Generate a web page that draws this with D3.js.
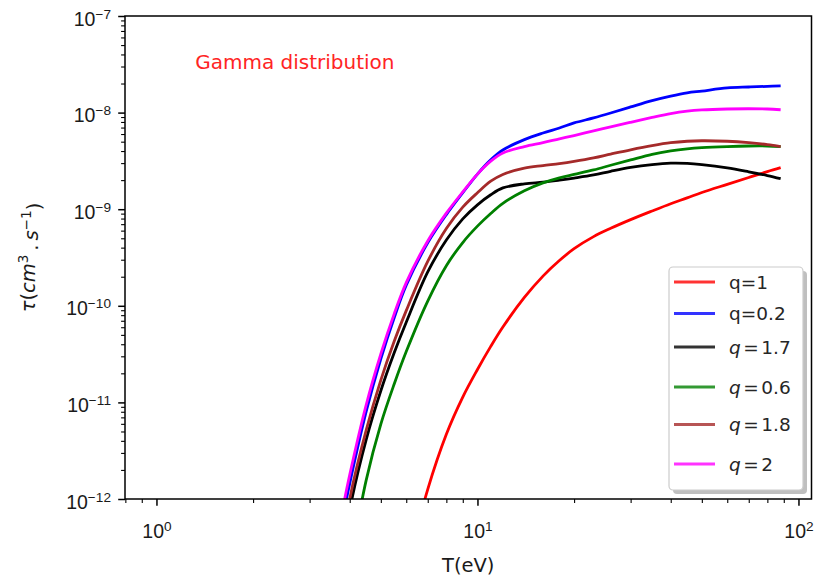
<!DOCTYPE html>
<html>
<head>
<meta charset="utf-8">
<script src="https://cdn.jsdelivr.net/npm/d3@7/dist/d3.min.js"></script>
<style>
  html, body { margin: 0; padding: 0; background: #fff; }
  svg { display: block; font-family: "DejaVu Sans", sans-serif; }
</style>
</head>
<body>
<svg id="chart" width="816" height="584"></svg>
<script>
// ---- data ----
const T = [3.8, 4, 4.5, 5, 5.5, 6, 7, 8, 9, 10, 11, 12, 14, 16, 18, 20, 23, 26, 30, 35, 40, 45, 50, 60, 70, 80, 88];

const tauQ1  = [null, null, null, null, null, 1.78e-13, 1.26e-12, 4.68e-12, 1.135e-11, 2.19e-11, 3.80e-11, 6.03e-11, 1.22e-10, 2.03e-10, 2.94e-10, 3.90e-10, 5.20e-10, 6.34e-10, 7.80e-10, 9.59e-10, 1.14e-9, 1.31e-9, 1.49e-9, 1.81e-9, 2.13e-9, 2.45e-9, 2.69e-9];
const tauQ02 = [6.3e-13, 1.45e-12, 8.0e-12, 2.83e-11, 7.48e-11, 1.63e-10, 4.48e-10, 8.79e-10, 1.48e-9, 2.31e-9, 3.24e-9, 4.10e-9, 5.25e-9, 6.15e-9, 6.93e-9, 7.82e-9, 8.81e-9, 9.9e-9, 1.144e-8, 1.33e-8, 1.48e-8, 1.60e-8, 1.67e-8, 1.80e-8, 1.84e-8, 1.87e-8, 1.89e-8];
const tauQ17 = [2.65e-13, 7.74e-13, 4.10e-12, 1.32e-11, 3.24e-11, 6.76e-11, 2.24e-10, 4.79e-10, 7.94e-10, 1.11e-9, 1.41e-9, 1.66e-9, 1.83e-9, 1.905e-9, 2.0e-9, 2.10e-9, 2.26e-9, 2.47e-9, 2.71e-9, 2.90e-9, 3.0e-9, 2.985e-9, 2.90e-9, 2.68e-9, 2.44e-9, 2.23e-9, 2.07e-9];
const tauQ06 = [7.9e-14, 2.04e-13, 1.56e-12, 5.96e-12, 1.54e-11, 3.36e-11, 1.12e-10, 2.60e-10, 4.52e-10, 6.68e-10, 9.02e-10, 1.15e-9, 1.55e-9, 1.87e-9, 2.11e-9, 2.29e-9, 2.55e-9, 2.85e-9, 3.24e-9, 3.70e-9, 4.01e-9, 4.21e-9, 4.33e-9, 4.45e-9, 4.51e-9, 4.51e-9, 4.45e-9];
const tauQ18 = [3.55e-13, 1.0e-12, 5.13e-12, 1.70e-11, 4.27e-11, 8.91e-11, 2.88e-10, 6.31e-10, 1.05e-9, 1.48e-9, 1.95e-9, 2.29e-9, 2.66e-9, 2.83e-9, 2.97e-9, 3.13e-9, 3.40e-9, 3.72e-9, 4.12e-9, 4.55e-9, 4.88e-9, 5.05e-9, 5.11e-9, 5.05e-9, 4.88e-9, 4.66e-9, 4.45e-9];
const tauQ2  = [7.78e-13, 1.78e-12, 9.4e-12, 3.18e-11, 8.2e-11, 1.74e-10, 4.69e-10, 9.1e-10, 1.51e-9, 2.31e-9, 3.14e-9, 3.82e-9, 4.44e-9, 4.88e-9, 5.35e-9, 5.79e-9, 6.46e-9, 7.11e-9, 7.94e-9, 8.91e-9, 9.77e-9, 1.035e-8, 1.066e-8, 1.09e-8, 1.096e-8, 1.09e-8, 1.07e-8];

const seriesNames  = ["q=1", "q=0.2", "q=1.7", "q=0.6", "q=1.8", "q=2"];
const seriesMath   = [false, false, true, true, true, true];
const seriesColors = ["#ff0000", "#0000ff", "#000000", "#008000", "#a52a2a", "#ff00ff"];
const seriesValues = [tauQ1, tauQ02, tauQ17, tauQ06, tauQ18, tauQ2];

const xMajorTicks = [1, 10, 100];
const yMajorTicks = [1e-12, 1e-11, 1e-10, 1e-9, 1e-8, 1e-7];
const xDomain = [0.798, 109.8];
const yDomain = [1e-12, 1e-7];
const annotation = { text: "Gamma distribution", T: 1.32, tau: 2.8e-8 };

// ---- layout ----
const plot = { left: 125, right: 811.5, top: 16, bottom: 499 };
const FS = 19.5;

const svg = d3.select("#chart");
const x = d3.scaleLog().domain(xDomain).range([plot.left, plot.right]);
const y = d3.scaleLog().domain(yDomain).range([plot.bottom, plot.top]);

function minorTicks(scale) {
  const [a, b] = scale.domain();
  const out = [];
  for (let e = Math.floor(Math.log10(a)); e <= Math.ceil(Math.log10(b)); e++) {
    for (let m = 2; m <= 9; m++) {
      const v = m * Math.pow(10, e);
      if (v >= a && v <= b) out.push(v);
    }
  }
  return out;
}

function sciLabel(textSel, v) {
  const e = Math.round(Math.log10(v));
  textSel.append("tspan").text("10");
  textSel.append("tspan")
    .attr("dy", "-0.5em")
    .attr("font-size", (FS * 0.7) + "px")
    .text(e < 0 ? "\u2212" + (-e) : String(e));
}

// clip
svg.append("defs").append("clipPath").attr("id", "plotclip")
  .append("rect")
  .attr("x", plot.left).attr("y", plot.top)
  .attr("width", plot.right - plot.left).attr("height", plot.bottom - plot.top);

// lines
const line = d3.line()
  .defined(d => d.v !== null)
  .x(d => x(d.t))
  .y(d => y(d.v))
  .curve(d3.curveCatmullRom.alpha(0.5));

const linesG = svg.append("g").attr("clip-path", "url(#plotclip)");
seriesValues.forEach((vals, i) => {
  const pts = T.map((t, j) => ({ t: t, v: vals[j] }));
  linesG.append("path")
    .datum(pts)
    .attr("d", line)
    .attr("fill", "none")
    .attr("stroke", seriesColors[i])
    .attr("stroke-width", 2.8)
    .attr("stroke-linejoin", "round")
    .attr("stroke-linecap", "butt");
});

// axes: bottom
const xMinorAxis = d3.axisBottom(x).tickValues(minorTicks(x)).tickSize(3.9).tickFormat("");
const xMajorAxis = d3.axisBottom(x).tickValues(xMajorTicks).tickSize(6.8).tickFormat("");
const gxm = svg.append("g").attr("transform", `translate(0,${plot.bottom})`).call(xMinorAxis);
const gxM = svg.append("g").attr("transform", `translate(0,${plot.bottom})`).call(xMajorAxis);
[gxm, gxM].forEach(g => { g.select(".domain").remove(); g.selectAll("line").attr("stroke", "#000"); });
gxm.selectAll("line").attr("stroke-width", 1.1);
gxM.selectAll("line").attr("stroke-width", 1.5);
gxM.selectAll(".tick").each(function(d) {
  const t = d3.select(this).append("text")
    .attr("x", 0).attr("y", 39)
    .attr("text-anchor", "middle")
    .attr("fill", "#1a1a1a")
    .attr("font-size", FS + "px");
  sciLabel(t, d);
});

// axes: left
const yMinorAxis = d3.axisLeft(y).tickValues(minorTicks(y)).tickSize(3.9).tickFormat("");
const yMajorAxis = d3.axisLeft(y).tickValues(yMajorTicks).tickSize(6.8).tickFormat("");
const gym = svg.append("g").attr("transform", `translate(${plot.left},0)`).call(yMinorAxis);
const gyM = svg.append("g").attr("transform", `translate(${plot.left},0)`).call(yMajorAxis);
[gym, gyM].forEach(g => { g.select(".domain").remove(); g.selectAll("line").attr("stroke", "#000"); });
gym.selectAll("line").attr("stroke-width", 1.1);
gyM.selectAll("line").attr("stroke-width", 1.5);
gyM.selectAll(".tick").each(function(d) {
  const t = d3.select(this).append("text")
    .attr("x", -14).attr("y", 9)
    .attr("text-anchor", "end")
    .attr("fill", "#1a1a1a")
    .attr("font-size", FS + "px");
  sciLabel(t, d);
});

// frame
svg.append("rect")
  .attr("x", plot.left).attr("y", plot.top)
  .attr("width", plot.right - plot.left).attr("height", plot.bottom - plot.top)
  .attr("fill", "none").attr("stroke", "#000").attr("stroke-width", 1.5);

// axis labels
svg.append("text")
  .attr("x", (plot.left + plot.right) / 2).attr("y", 572)
  .attr("text-anchor", "middle")
  .attr("font-size", FS + "px").attr("fill", "#1a1a1a")
  .text("T(eV)");

const yl = svg.append("text")
  .attr("transform", `translate(35,${(plot.top + plot.bottom) / 2}) rotate(-90)`)
  .attr("text-anchor", "middle")
  .attr("font-size", FS + "px").attr("fill", "#1a1a1a");
yl.append("tspan").attr("font-style", "italic").text("\u03c4");
yl.append("tspan").text("(");
yl.append("tspan").attr("font-style", "italic").text("cm");
yl.append("tspan").attr("dy", "-0.5em").attr("font-size", (FS * 0.7) + "px").text("3");
yl.append("tspan").attr("dy", "0.5em").text("\u2009.\u2009");
yl.append("tspan").attr("font-style", "italic").text("s");
yl.append("tspan").attr("dy", "-0.5em").attr("font-size", (FS * 0.7) + "px").text("\u22121");
yl.append("tspan").attr("dy", "0.5em").text(")");

// annotation
svg.append("text")
  .attr("x", x(annotation.T)).attr("y", y(annotation.tau))
  .attr("font-size", "20px")
  .attr("fill", "#ff2424")
  .text(annotation.text);

// legend
const leg = { x: 669, y: 267, w: 134, h: 223 };
const rowCenters = [282, 313.5, 347, 387, 424.5, 464];
const lg = svg.append("g");
lg.append("rect")
  .attr("x", leg.x + 4).attr("y", leg.y + 4)
  .attr("width", leg.w).attr("height", leg.h).attr("rx", 4)
  .attr("fill", "#000").attr("fill-opacity", 0.25);
lg.append("rect")
  .attr("x", leg.x).attr("y", leg.y)
  .attr("width", leg.w).attr("height", leg.h).attr("rx", 4)
  .attr("fill", "#fff").attr("stroke", "#cccccc").attr("stroke-width", 1.2);
seriesNames.forEach((name, i) => {
  const cy = rowCenters[i];
  lg.append("line")
    .attr("x1", 674).attr("x2", 715).attr("y1", cy).attr("y2", cy)
    .attr("stroke", seriesColors[i]).attr("stroke-width", 2.8)
    .attr("stroke-opacity", 0.8);
  const t = lg.append("text")
    .attr("x", 729).attr("y", cy).attr("dy", "0.36em")
    .attr("font-size", "18.5px").attr("fill", "#262626");
  if (seriesMath[i]) {
    const parts = name.split("=");
    t.append("tspan").attr("font-style", "italic").text(parts[0]);
    t.append("tspan").attr("dx", 2.5).text("=");
    t.append("tspan").attr("dx", 2.5).text(parts[1]);
  } else {
    t.text(name);
  }
});
</script>
</body>
</html>
